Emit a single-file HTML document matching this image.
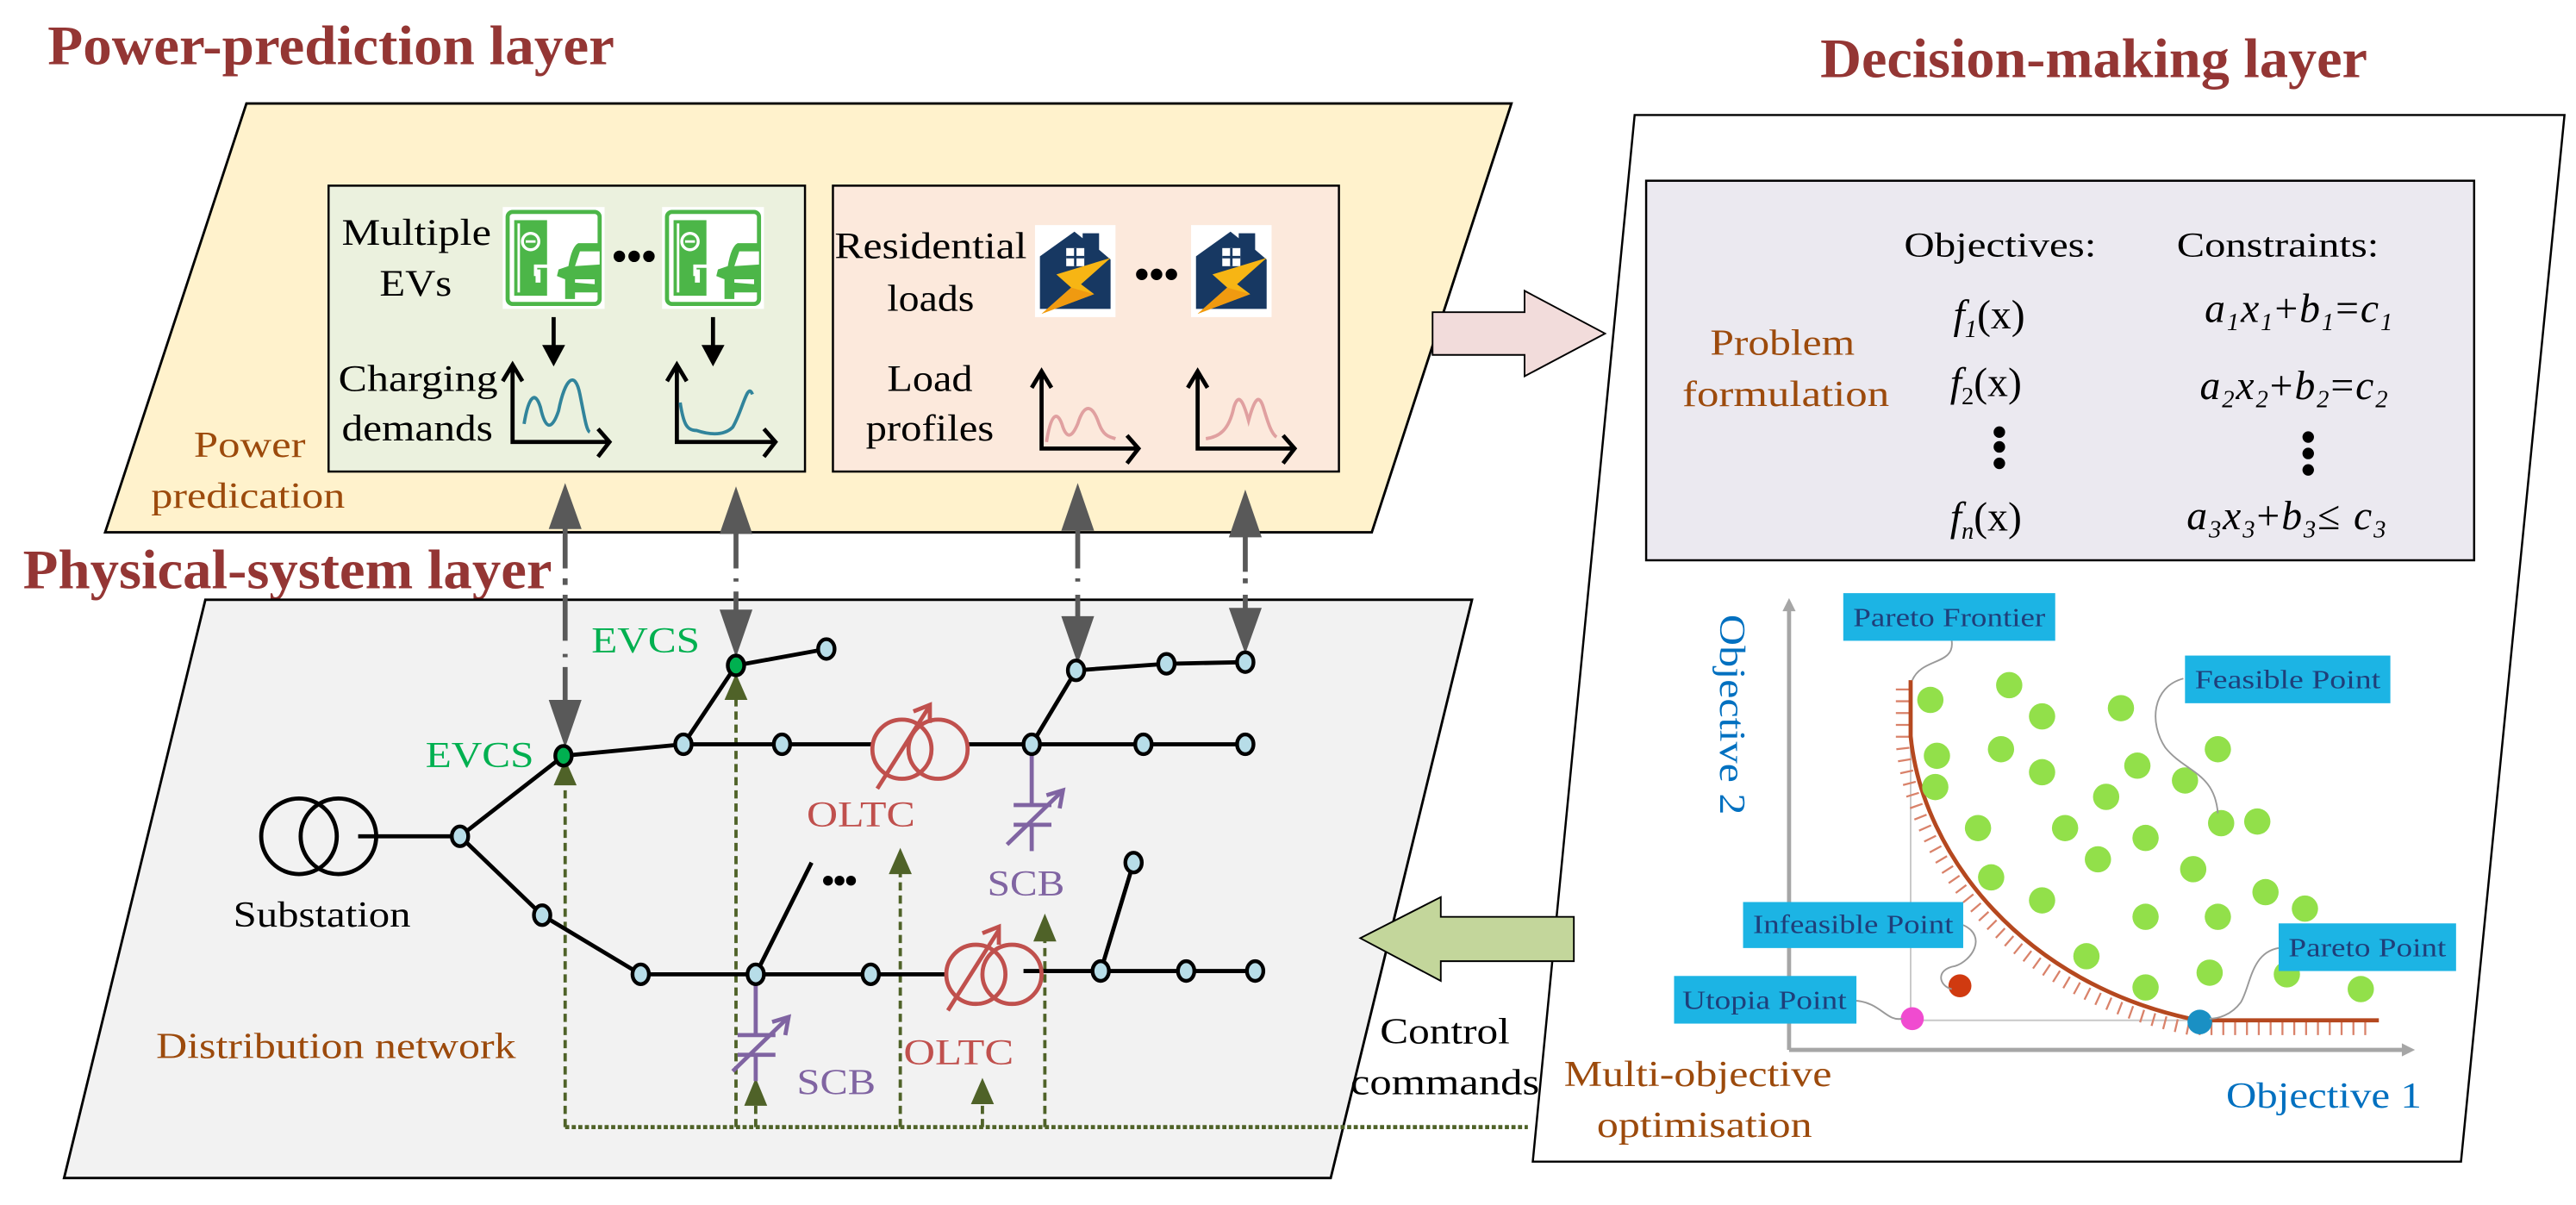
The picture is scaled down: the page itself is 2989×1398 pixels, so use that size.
<!DOCTYPE html>
<html><head><meta charset="utf-8"><style>
html,body{margin:0;padding:0;background:#fff;}
svg{display:block;}
text{font-family:"Liberation Serif",serif;}
</style></head><body>
<svg width="2989" height="1398" viewBox="0 0 1568 733.4" preserveAspectRatio="none" xmlns="http://www.w3.org/2000/svg">
<defs>
<g id="ev">
  <rect x="0" y="0" width="62" height="62" fill="#fff"/>
  <rect x="3" y="3" width="56" height="56" rx="3" fill="none" stroke="#4cb648" stroke-width="2.5"/>
  <rect x="7" y="8" width="20" height="46" fill="#4cb648"/>
  <rect x="9" y="10" width="1.5" height="42" fill="#fff"/>
  <circle cx="17" cy="21" r="5" fill="none" stroke="#fff" stroke-width="1.8"/>
  <line x1="14" y1="21" x2="20" y2="21" stroke="#fff" stroke-width="1.5"/>
  <path d="M20,42 L20,36 L28,36 Q30,36 30,40 L34,42" fill="none" stroke="#fff" stroke-width="2"/>
  <rect x="20" y="38" width="3" height="8" fill="#fff"/>
  <path d="M59,22 L46,22 Q42,24 40,36 L34,38 L33,42 L38,44 L38,56 L44,56 L44,52 L59,52 Z" fill="#4cb648"/>
  <path d="M47,27 L59,27 L59,35 L44,36 Z" fill="#fff"/>
  <path d="M44,44 L56,44 L56,47 L44,46 Z" fill="#fff"/>
</g>
<g id="house">
  <rect x="0" y="0" width="49" height="56" fill="#fff"/>
  <path d="M3,19 L24,4 L29,8 L29,5 L39,5 L39,15 L46,21 L46,51 L3,51 Z" fill="#173862"/>
  <rect x="19" y="14" width="11" height="11" fill="#fff"/>
  <line x1="24.5" y1="14" x2="24.5" y2="25" stroke="#173862" stroke-width="1.5"/>
  <line x1="19" y1="19.5" x2="30" y2="19.5" stroke="#173862" stroke-width="1.5"/>
  <path d="M46,20 L13,30 L22,38 L4,54 L36,42 L28,36 Z" fill="#f7b514"/>
  <path d="M22,38 L4,54 L36,42 Z" fill="#f09a10"/>
</g>
</defs>

<text x="29" y="39" font-size="34" font-weight="bold" fill="#943634" textLength="345" lengthAdjust="spacingAndGlyphs">Power-prediction layer</text>
<text x="1108" y="47" font-size="34" font-weight="bold" fill="#943634" textLength="333" lengthAdjust="spacingAndGlyphs">Decision-making layer</text>

<polygon points="150,63 920,63 835,324 64,324" fill="#fff2cc" stroke="#000" stroke-width="1.5"/>
<rect x="200" y="113" width="290" height="174" fill="#ebf1de" stroke="#000" stroke-width="1.3"/>
<rect x="507" y="113" width="308" height="174" fill="#fce9dc" stroke="#000" stroke-width="1.3"/>

<text x="208" y="149" font-size="23" textLength="91" lengthAdjust="spacingAndGlyphs">Multiple</text>
<text x="231" y="180" font-size="23" textLength="44" lengthAdjust="spacingAndGlyphs">EVs</text>
<text x="206" y="238" font-size="23" textLength="97" lengthAdjust="spacingAndGlyphs">Charging</text>
<text x="208" y="268" font-size="23" textLength="92" lengthAdjust="spacingAndGlyphs">demands</text>
<use href="#ev" transform="translate(306,126)"/>
<use href="#ev" transform="translate(403,126)"/>
<circle cx="377" cy="156" r="3.5"/><circle cx="386" cy="156" r="3.5"/><circle cx="395" cy="156" r="3.5"/>
<g stroke="#000" stroke-width="2.5" fill="none">
<line x1="337" y1="193" x2="337" y2="212"/><line x1="434" y1="193" x2="434" y2="212"/>
</g>
<polygon points="330,210 344,210 337,223" fill="#000"/>
<polygon points="427,210 441,210 434,223" fill="#000"/>
<g stroke="#000" stroke-width="2.5" fill="none">
<path d="M312,223 L312,269 L371,269"/><path d="M306,232 L312,222 L318,232"/><path d="M364,261 L371,269 L364,278"/>
<path d="M412,223 L412,269 L472,269"/><path d="M406,232 L412,222 L418,232"/><path d="M465,261 L472,269 L465,278"/>
<path d="M634,227 L634,273 L693,273"/><path d="M628,236 L634,226 L640,236"/><path d="M686,265 L693,273 L686,282"/>
<path d="M729,227 L729,273 L788,273"/><path d="M723,236 L729,226 L735,236"/><path d="M781,265 L788,273 L781,282"/>
</g>
<g stroke="#31849b" stroke-width="2" fill="none">
<path d="M319,258 C322,240 326,238 329,248 C332,262 336,262 340,250 C344,230 350,225 353,240 C356,255 357,262 359,263"/>
<path d="M414,245 C416,258 418,262 424,262 C430,264 440,266 446,260 C452,250 455,232 458,240"/>
</g>
<g stroke="#e0a0a0" stroke-width="2" fill="none">
<path d="M637,269 C640,250 644,250 647,260 C650,268 653,265 656,258 C660,245 665,246 669,258 C672,266 676,266 679,267"/>
<path d="M734,267 C742,266 748,262 751,248 C754,238 757,245 760,256 C763,245 766,238 769,248 C772,258 774,264 777,266"/>
</g>

<text x="508" y="157" font-size="23" textLength="117" lengthAdjust="spacingAndGlyphs">Residential</text>
<text x="540" y="189" font-size="23" textLength="53" lengthAdjust="spacingAndGlyphs">loads</text>
<text x="540" y="238" font-size="23" textLength="52" lengthAdjust="spacingAndGlyphs">Load</text>
<text x="527" y="268" font-size="23" textLength="78" lengthAdjust="spacingAndGlyphs">profiles</text>
<use href="#house" transform="translate(630,137)"/>
<use href="#house" transform="translate(725,137)"/>
<circle cx="695" cy="167" r="3.5"/><circle cx="704" cy="167" r="3.5"/><circle cx="713" cy="167" r="3.5"/>

<text x="118" y="278" font-size="22" fill="#9c4a0c" textLength="68" lengthAdjust="spacingAndGlyphs">Power</text>
<text x="92" y="309" font-size="22" fill="#9c4a0c" textLength="118" lengthAdjust="spacingAndGlyphs">predication</text>

<text x="14" y="358" font-size="34" font-weight="bold" fill="#943634" textLength="322" lengthAdjust="spacingAndGlyphs">Physical-system layer</text>
<polygon points="125,365 896,365 810,717 39,717" fill="#f2f2f2" stroke="#000" stroke-width="1.5"/>

<g stroke="#595959" stroke-width="3" fill="none">
<line x1="344" y1="318" x2="344" y2="346"/>
<line x1="448" y1="320" x2="448" y2="346"/>
<line x1="656" y1="318" x2="656" y2="346"/>
<line x1="758" y1="320" x2="758" y2="348"/>
<path d="M344,352 L344,356 M344,362 L344,390 M344,398 L344,400 M344,406 L344,430"/>
<path d="M448,352 L448,354 M448,360 L448,375"/>
<path d="M656,352 L656,354 M656,362 L656,378"/>
<path d="M758,352 L758,355 M758,362 L758,375"/>
</g>
<g fill="#595959">
<polygon points="344,294 334,322 354,322"/>
<polygon points="448,296 438,325 458,325"/>
<polygon points="656,294 646,323 666,323"/>
<polygon points="758,298 748,327 768,327"/>
<polygon points="334,426 354,426 344,455"/>
<polygon points="438,371 458,371 448,400"/>
<polygon points="646,375 666,375 656,404"/>
<polygon points="748,370 768,370 758,398"/>
</g>

<g stroke="#4f6228" stroke-width="2" fill="none" stroke-dasharray="5 3">
<line x1="344" y1="686" x2="344" y2="478"/>
<line x1="448" y1="686" x2="448" y2="425"/>
<line x1="460" y1="686" x2="460" y2="672"/>
<line x1="548" y1="686" x2="548" y2="530"/>
<line x1="598" y1="686" x2="598" y2="672"/>
<line x1="636" y1="686" x2="636" y2="572"/>
</g>
<line x1="344" y1="686" x2="930" y2="686" stroke="#4f6228" stroke-width="2.5" stroke-dasharray="2.5 1.5"/>
<g fill="#4f6228">
<polygon points="344,462 337,478 351,478"/>
<polygon points="448,410 441,426 455,426"/>
<polygon points="460,656 453,673 467,673"/>
<polygon points="548,516 541,532 555,532"/>
<polygon points="598,656 591,672 605,672"/>
<polygon points="636,556 629,573 643,573"/>
</g>

<g stroke="#000" stroke-width="2.5" fill="none">
<line x1="218" y1="509" x2="280" y2="509"/>
<polyline points="280,509 343,460 416,453 531,453"/>
<polyline points="589,453 628,453 758,453"/>
<polyline points="416,453 448,405 503,395"/>
<polyline points="628,453 655,408 710,404 758,403"/>
<polyline points="280,509 330,557 390,593 575,593"/>
<polyline points="623,591 764,591"/>
<line x1="460" y1="593" x2="494" y2="525"/>
<line x1="670" y1="591" x2="690" y2="525"/>
</g>
<circle cx="504" cy="536" r="3"/><circle cx="511" cy="536" r="3"/><circle cx="518" cy="536" r="3"/>
<g stroke="#000" stroke-width="2.5" fill="none">
<circle cx="182" cy="509" r="23"/><circle cx="206" cy="509" r="23"/>
</g>
<text x="142" y="564" font-size="22" textLength="108" lengthAdjust="spacingAndGlyphs">Substation</text>

<g stroke="#c0504d" stroke-width="2.5" fill="none">
<circle cx="549" cy="456" r="18"/><circle cx="571" cy="456" r="18"/>
<line x1="534" y1="480" x2="565" y2="431"/><polyline points="556,433 566,429 566,440"/>
<circle cx="594" cy="593" r="18"/><circle cx="616" cy="593" r="18"/>
<line x1="577" y1="615" x2="608" y2="566"/><polyline points="598,568 608,564 608,575"/>
</g>
<text x="491" y="503" font-size="22" fill="#c0504d" textLength="66" lengthAdjust="spacingAndGlyphs">OLTC</text>
<text x="550" y="648" font-size="22" fill="#c0504d" textLength="67" lengthAdjust="spacingAndGlyphs">OLTC</text>

<g stroke="#8064a2" stroke-width="2.5" fill="none">
<line x1="628" y1="458" x2="628" y2="490"/><line x1="628" y1="502" x2="628" y2="518"/>
<line x1="617" y1="490" x2="640" y2="490"/><line x1="617" y1="502" x2="640" y2="502"/>
<line x1="613" y1="514" x2="646" y2="482"/><polyline points="637,484 647,481 645,492"/>
<line x1="460" y1="598" x2="460" y2="630"/><line x1="460" y1="642" x2="460" y2="658"/>
<line x1="449" y1="630" x2="472" y2="630"/><line x1="449" y1="642" x2="472" y2="642"/>
<line x1="446" y1="652" x2="479" y2="620"/><polyline points="470,622 480,619 478,630"/>
</g>
<text x="601" y="545" font-size="22" fill="#8064a2" textLength="47" lengthAdjust="spacingAndGlyphs">SCB</text>
<text x="485" y="666" font-size="22" fill="#8064a2" textLength="48" lengthAdjust="spacingAndGlyphs">SCB</text>

<g stroke="#000" stroke-width="2.3" fill="#b7dde8">
<ellipse cx="280" cy="509" rx="5" ry="6"/>
<ellipse cx="416" cy="453" rx="5" ry="6"/>
<ellipse cx="476" cy="453" rx="5" ry="6"/>
<ellipse cx="628" cy="453" rx="5" ry="6"/>
<ellipse cx="696" cy="453" rx="5" ry="6"/>
<ellipse cx="758" cy="453" rx="5" ry="6"/>
<ellipse cx="503" cy="395" rx="5" ry="6"/>
<ellipse cx="655" cy="408" rx="5" ry="6"/>
<ellipse cx="710" cy="404" rx="5" ry="6"/>
<ellipse cx="758" cy="403" rx="5" ry="6"/>
<ellipse cx="330" cy="557" rx="5" ry="6"/>
<ellipse cx="390" cy="593" rx="5" ry="6"/>
<ellipse cx="460" cy="593" rx="5" ry="6"/>
<ellipse cx="530" cy="593" rx="5" ry="6"/>
<ellipse cx="670" cy="591" rx="5" ry="6"/>
<ellipse cx="722" cy="591" rx="5" ry="6"/>
<ellipse cx="764" cy="591" rx="5" ry="6"/>
<ellipse cx="690" cy="525" rx="5" ry="6"/>
<ellipse cx="343" cy="460" rx="5" ry="6" fill="#00b050"/>
<ellipse cx="448" cy="405" rx="5" ry="6" fill="#00b050"/>
</g>
<text x="259" y="467" font-size="22" fill="#00b050" textLength="66" lengthAdjust="spacingAndGlyphs">EVCS</text>
<text x="360" y="397" font-size="22" fill="#00b050" textLength="66" lengthAdjust="spacingAndGlyphs">EVCS</text>

<text x="95" y="644" font-size="22" fill="#9c4a0c" textLength="219" lengthAdjust="spacingAndGlyphs">Distribution network</text>
<text x="840" y="635" font-size="22" textLength="79" lengthAdjust="spacingAndGlyphs">Control</text>
<text x="822" y="666" font-size="22" textLength="115" lengthAdjust="spacingAndGlyphs">commands</text>

<polygon points="995,70 1561,70 1498,707 933,707" fill="#fff" stroke="#000" stroke-width="1.3"/>
<rect x="1002" y="110" width="504" height="231" fill="#ebe9f0" stroke="#000" stroke-width="1.3"/>
<text x="1041" y="216" font-size="22" fill="#9c4a0c" textLength="88" lengthAdjust="spacingAndGlyphs">Problem</text>
<text x="1024" y="247" font-size="22" fill="#9c4a0c" textLength="126" lengthAdjust="spacingAndGlyphs">formulation</text>
<text x="1159" y="156" font-size="21" textLength="117" lengthAdjust="spacingAndGlyphs">Objectives:</text>
<text x="1325" y="156" font-size="21" textLength="123" lengthAdjust="spacingAndGlyphs">Constraints:</text>
<g font-size="25">
<text x="1189" y="200"><tspan font-style="italic">f</tspan><tspan font-size="15" dy="5" font-style="italic">1</tspan><tspan dy="-5">(x)</tspan></text>
<text x="1187" y="241"><tspan font-style="italic">f</tspan><tspan font-size="15" dy="5">2</tspan><tspan dy="-5">(x)</tspan></text>
<text x="1187" y="323"><tspan font-style="italic">f</tspan><tspan font-size="15" dy="5" font-style="italic">n</tspan><tspan dy="-5">(x)</tspan></text>
<text x="1342" y="196" font-style="italic" letter-spacing="1"><tspan>a</tspan><tspan font-size="15" dy="5">1</tspan><tspan dy="-5">x</tspan><tspan font-size="15" dy="5">1</tspan><tspan dy="-5" font-style="normal">+</tspan><tspan>b</tspan><tspan font-size="15" dy="5">1</tspan><tspan dy="-5" font-style="normal">=</tspan><tspan>c</tspan><tspan font-size="15" dy="5">1</tspan></text>
<text x="1339" y="243" font-style="italic" letter-spacing="1"><tspan>a</tspan><tspan font-size="15" dy="5">2</tspan><tspan dy="-5">x</tspan><tspan font-size="15" dy="5">2</tspan><tspan dy="-5" font-style="normal">+</tspan><tspan>b</tspan><tspan font-size="15" dy="5">2</tspan><tspan dy="-5" font-style="normal">=</tspan><tspan>c</tspan><tspan font-size="15" dy="5">2</tspan></text>
<text x="1331" y="322" font-style="italic" letter-spacing="1"><tspan>a</tspan><tspan font-size="15" dy="5">3</tspan><tspan dy="-5">x</tspan><tspan font-size="15" dy="5">3</tspan><tspan dy="-5" font-style="normal">+</tspan><tspan>b</tspan><tspan font-size="15" dy="5">3</tspan><tspan dy="-5" font-style="normal">≤ </tspan><tspan>c</tspan><tspan font-size="15" dy="5">3</tspan></text>
</g>
<circle cx="1217" cy="263" r="3.5"/><circle cx="1217" cy="272" r="3.5"/><circle cx="1217" cy="282" r="3.5"/>
<circle cx="1405" cy="266" r="3.5"/><circle cx="1405" cy="276" r="3.5"/><circle cx="1405" cy="286" r="3.5"/>

<g stroke="#a6a6a6" stroke-width="2.5" fill="none">
<line x1="1089" y1="370" x2="1089" y2="639"/><line x1="1089" y1="639" x2="1464" y2="639"/>
</g>
<polygon points="1085,372 1093,372 1089,364" fill="#a6a6a6"/>
<polygon points="1462,635 1462,643 1470,639" fill="#a6a6a6"/>
<g stroke="#c8c8c8" stroke-width="1" fill="none">
<line x1="1163" y1="450" x2="1163" y2="620"/><line x1="1163" y1="621" x2="1338" y2="621"/>
</g>
<path d="M1163,414 L1163,448 C1170,520 1232,600 1338,621 L1448,621" transform="translate(-5,5)" fill="none" stroke="#d9826a" stroke-width="8" stroke-dasharray="1.2 6"/>
<path d="M1163,414 L1163,448 C1170,520 1232,600 1338,621 L1448,621" fill="none" stroke="#b5481f" stroke-width="2.5"/>
<g fill="#92e04a">
<circle cx="1175" cy="426" r="8"/><circle cx="1223" cy="417" r="8"/><circle cx="1243" cy="436" r="8"/><circle cx="1291" cy="431" r="8"/>
<circle cx="1179" cy="460" r="8"/><circle cx="1218" cy="456" r="8"/><circle cx="1243" cy="470" r="8"/><circle cx="1301" cy="466" r="8"/>
<circle cx="1330" cy="475" r="8"/><circle cx="1350" cy="456" r="8"/><circle cx="1178" cy="479" r="8"/><circle cx="1282" cy="485" r="8"/>
<circle cx="1204" cy="504" r="8"/><circle cx="1257" cy="504" r="8"/><circle cx="1306" cy="510" r="8"/><circle cx="1352" cy="501" r="8"/>
<circle cx="1374" cy="500" r="8"/><circle cx="1277" cy="523" r="8"/><circle cx="1335" cy="529" r="8"/><circle cx="1212" cy="534" r="8"/>
<circle cx="1243" cy="548" r="8"/><circle cx="1306" cy="558" r="8"/><circle cx="1350" cy="558" r="8"/><circle cx="1379" cy="543" r="8"/>
<circle cx="1403" cy="553" r="8"/><circle cx="1270" cy="582" r="8"/><circle cx="1345" cy="592" r="8"/><circle cx="1306" cy="601" r="8"/>
<circle cx="1392" cy="593" r="8"/><circle cx="1437" cy="602" r="8"/>
</g>
<circle cx="1164" cy="620" r="7" fill="#f04bd0"/>
<circle cx="1193" cy="600" r="7" fill="#d03a10"/>
<circle cx="1339" cy="622" r="7.5" fill="#1a90c4"/>
<g stroke="#999" stroke-width="1" fill="none">
<path d="M1188,390 C1190,405 1170,400 1164,414"/>
<path d="M1329,413 C1310,418 1308,440 1318,455 C1330,470 1348,470 1350,495"/>
<path d="M1195,563 C1210,570 1200,585 1190,588 C1178,590 1180,600 1188,602"/>
<path d="M1129,609 C1145,610 1148,622 1158,620"/>
<path d="M1387,577 C1370,580 1370,600 1364,610 C1358,618 1350,620 1345,620"/>
</g>
<g font-size="16" fill="#1f3f7a">
<rect x="1122" y="361" width="129" height="29" fill="#1cb4e4"/>
<text x="1128" y="381" textLength="117" lengthAdjust="spacingAndGlyphs">Pareto Frontier</text>
<rect x="1330" y="399" width="125" height="29" fill="#1cb4e4"/>
<text x="1336" y="419" textLength="113" lengthAdjust="spacingAndGlyphs">Feasible Point</text>
<rect x="1061" y="549" width="134" height="28" fill="#1cb4e4"/>
<text x="1067" y="568" textLength="122" lengthAdjust="spacingAndGlyphs">Infeasible Point</text>
<rect x="1019" y="594" width="111" height="29" fill="#1cb4e4"/>
<text x="1024" y="614" textLength="100" lengthAdjust="spacingAndGlyphs">Utopia Point</text>
<rect x="1387" y="562" width="108" height="29" fill="#1cb4e4"/>
<text x="1393" y="582" textLength="96" lengthAdjust="spacingAndGlyphs">Pareto Point</text>
</g>
<text transform="translate(1047,374) rotate(90)" font-size="22" fill="#0070c0" textLength="122" lengthAdjust="spacingAndGlyphs">Objective 2</text>
<text x="1355" y="674" font-size="22" fill="#0070c0" textLength="119" lengthAdjust="spacingAndGlyphs">Objective 1</text>
<text x="952" y="661" font-size="22" fill="#9c4a0c" textLength="163" lengthAdjust="spacingAndGlyphs">Multi-objective</text>
<text x="972" y="692" font-size="22" fill="#9c4a0c" textLength="131" lengthAdjust="spacingAndGlyphs">optimisation</text>

<polygon points="872,190 928,190 928,177 977,203 928,229 928,216 872,216" fill="#f2dcdb" stroke="#000" stroke-width="1"/>
<polygon points="958,558 877,558 877,546 828,571 877,597 877,585 958,585" fill="#c3d69b" stroke="#000" stroke-width="1"/>
</svg>
</body></html>
